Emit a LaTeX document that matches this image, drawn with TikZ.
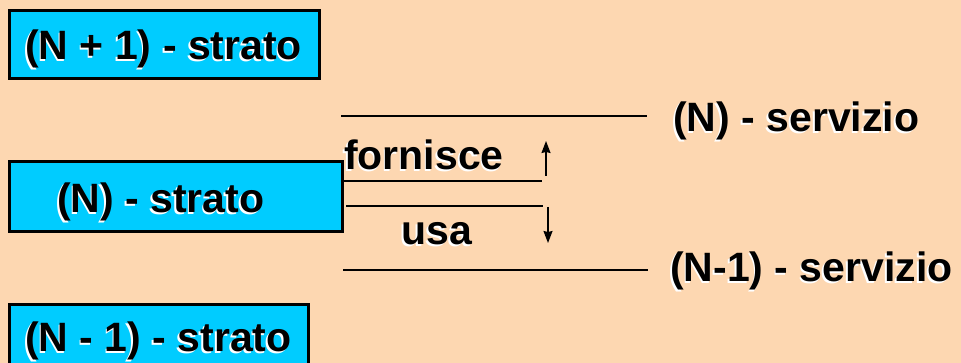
\documentclass[tikz,border=0pt]{standalone}
\usepackage{fontspec}
\setmainfont{Liberation Sans}
\usetikzlibrary{arrows.meta}

\definecolor{peach}{RGB}{253,215,177}
\definecolor{stratocyan}{RGB}{0,204,255}

% text with a white shadow down-left
\newcommand{\shad}[1]{\makebox[0pt][l]{\hspace*{-1.8pt}\raisebox{-1.8pt}{\color{white}#1}}#1}

\tikzset{
  strato/.style={draw=black, fill=stratocyan, line width=3pt, anchor=north west, inner sep=0pt},
  lbl/.style={anchor=base west, inner sep=0pt, font=\fontsize{41}{47}\selectfont\bfseries},
  serv/.style={line width=1.5pt},
  freccia/.style={line width=1.3pt, -{Stealth[length=12pt,width=9pt,inset=1pt]}}
}

\begin{document}
\begin{tikzpicture}[x=1pt, y=-1pt]
        \useasboundingbox[fill=peach] (0,0) rectangle (961,363);

        % boxes
        \node[strato, minimum width=310, minimum height=68] (s1) at (8,9) {};
        \node[strato, minimum width=333, minimum height=70] (s2) at (8,160) {};
        \node[strato, minimum width=299, minimum height=80] (s3) at (8,303) {};

        \node[lbl] (t1) at (25,60) {\shad{(N + 1) - strato}};
        \node[lbl] (t2) at (57,213) {\shad{(N) - strato}};
        \node[lbl] (t3) at (25,352) {\shad{(N - 1) - strato}};

        % service lines
        \coordinate (ns1) at (341,116);
        \coordinate (ns2) at (647,116);
        \coordinate (fo1) at (341,181);
        \coordinate (fo2) at (542,181);
        \coordinate (us1) at (346,206);
        \coordinate (us2) at (543,206);
        \coordinate (ms1) at (343,270);
        \coordinate (ms2) at (648,270);

        \draw[serv] (ns1) -- (ns2);
        \draw[serv] (fo1) -- (fo2);
        \draw[serv] (us1) -- (us2);
        \draw[serv] (ms1) -- (ms2);

        \node[lbl] (forn) at (344,170) {\shad{fornisce}};
        \node[lbl] (usa) at (401,245) {\shad{usa}};

        \node[lbl] (nserv) at (673,132) {\shad{(N) - servizio}};
        \node[lbl] (mserv) at (670,282) {\shad{(N-1) - servizio}};

        % arrows
        \coordinate (su0) at (546,176);
        \coordinate (su1) at (546,141);
        \coordinate (gi0) at (548,207);
        \coordinate (gi1) at (548,243);
        \draw[freccia] (su0) -- (su1);
        \draw[freccia] (gi0) -- (gi1);
\end{tikzpicture}
\end{document}
